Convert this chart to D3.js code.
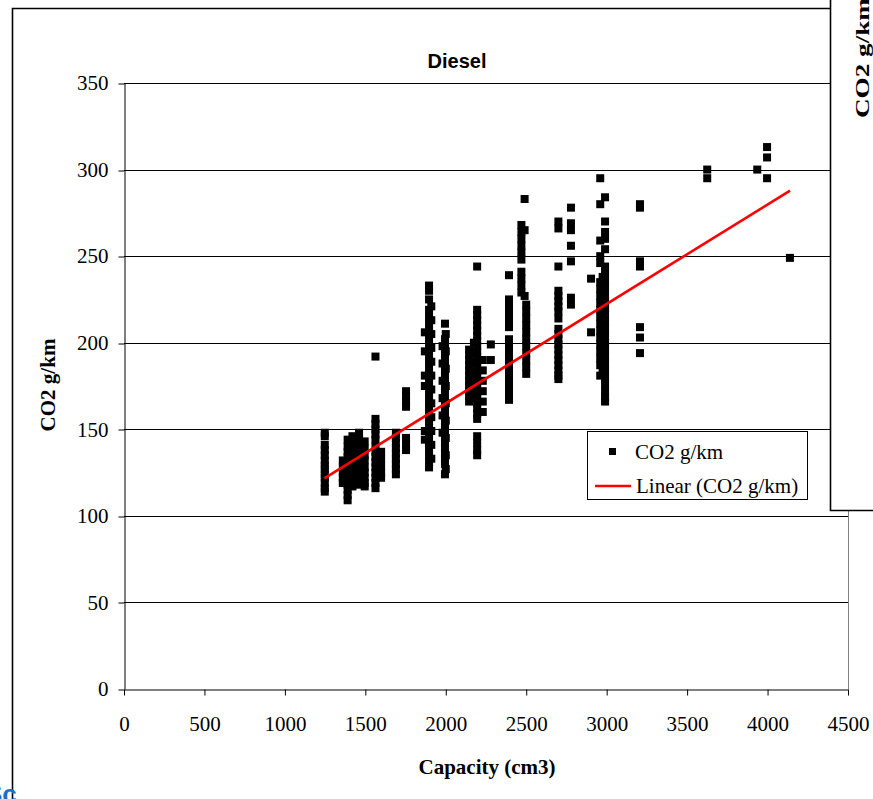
<!DOCTYPE html>
<html>
<head>
<meta charset="utf-8">
<script src="https://cdn.jsdelivr.net/npm/d3@7"></script>
<style>
  html, body { margin: 0; padding: 0; background: #fff; }
  svg { display: block; }
</style>
</head>
<body>
<svg id="chart" width="873" height="799"></svg>
<script>
// ---- DATA ----
const chartTitle = "Diesel";
const xLabel = "Capacity (cm3)";
const yLabel = "CO2 g/km";
const seriesName = "CO2 g/km";
const trendName = "Linear (CO2 g/km)";
const xTicks = [0, 500, 1000, 1500, 2000, 2500, 3000, 3500, 4000, 4500];
const yTicks = [0, 50, 100, 150, 200, 250, 300, 350];

// engine capacity groups (cm3) and CO2 values (g/km) observed at each
const capacityGroups = [1248, 1360, 1390, 1420, 1461, 1496, 1563, 1598, 1690, 1753, 1870, 1896, 1910, 1980, 1995, 2000,
  2145, 2175, 2195, 2230, 2280, 2393, 2470, 2490, 2500, 2700, 2778, 2903, 2960, 2975, 2990, 3207, 3625, 3936, 3997, 4139];
const co2Groups = [
  [148,146,141,138,135,132,129,127,124,122,119,116,114],
  [132,128,125,122,119],
  [144,140,137,134,130,127,124,121,118,115,112,109],
  [146,143,139,135,131,127,124,120,117],
  [148,144,141,137,133,130,127,124,121,118],
  [143,139,135,132,128,125,122,119,117],
  [192,156,153,150,147,144,140,137,134,131,128,125,122,119,116],
  [137,133,129,125,122],
  [148,145,142,139,136,133,130,127,124],
  [172,169,166,163,145,141,138],
  [206,195,181,175,149,144],
  [233,230,225,219,215,211,207,203,199,195,191,187,183,179,175,171,167,163,159,155,151,147,143,139,135,131,128],
  [221,213,205,197,189,181,173,165,157,149,141,133],
  [198,188,178,168,158,148],
  [211,202,199,196,193,190,187,184,181,178,175,172,169,166,163,160,157,154,151,148,145,142,139,136,133,130,124],
  [205,195,185,175,165,155,145,135,127],
  [196,193,190,187,184,181,178,175,172,169,166],
  [200,194,188,182,176,170],
  [244,219,216,213,210,207,204,201,198,195,192,189,186,183,180,177,174,171,168,165,162,159,156,146,142,138,135],
  [190,184,178,172,166,160],
  [199,190],
  [239,225,221,217,213,209,202,198,194,190,186,182,178,174,170,167],
  [268,264,260,256,252,248,241,237,233,229],
  [283,265,227],
  [222,218,214,210,206,202,198,194,190,186,182],
  [270,266,244,230,227,224,221,218,214,208,205,202,199,196,193,190,187,184,181,179],
  [278,269,265,256,247,226,222],
  [237,206],
  [295,280,259,250,246,235,231,227,223,219,215,211,207,203,199,195,191,187,181],
  [238,230,222,214,206,198,190,184],
  [284,270,264,260,254,244,240,236,232,228,224,220,216,212,208,204,200,196,192,188,184,180,176,172,168,166],
  [280,278,247,244,209,203,194],
  [300,295],
  [300],
  [313,307,295],
  [249]
];
// linear trendline endpoints (as drawn in the reference)
const trendCapacity = [1245, 4140];
const trendCO2 = [121.7, 287.8];

// ---- BUILD ----
const points = [];
capacityGroups.forEach((c, i) => co2Groups[i].forEach(v => points.push({cap: c, co2: v})));

const svg = d3.select("#chart");
const serif = "'Liberation Serif', 'Times New Roman', serif";
const sans = "'Liberation Sans', Arial, sans-serif";

svg.append("rect").attr("width", 873).attr("height", 799).attr("fill", "#fff");

// outer chart frame (left + top visible)
svg.append("path").attr("d", "M12.5,820 L12.5,8.5 L900,8.5")
  .attr("fill", "none").attr("stroke", "#000").attr("stroke-width", 1.6);

const x = d3.scaleLinear().domain([0, 4500]).range([124, 848]);
const y = d3.scaleLinear().domain([0, 350]).range([689, 83]);

// gridlines
svg.append("g").selectAll("line").data(yTicks.filter(d => d > 0)).join("line")
  .attr("x1", x(0)).attr("x2", x(4500))
  .attr("y1", d => Math.round(y(d)) + 0.5).attr("y2", d => Math.round(y(d)) + 0.5)
  .attr("stroke", "#000").attr("stroke-width", 1);

// plot area right border
svg.append("line").attr("x1", 848.5).attr("x2", 848.5).attr("y1", y(350)).attr("y2", y(0))
  .attr("stroke", "#808080").attr("stroke-width", 1);

// axes
const fmt = d3.format("d");
const yAxis = svg.append("g").attr("transform", "translate(124.5,0)")
  .call(d3.axisLeft(y).tickValues(yTicks).tickFormat(fmt).tickSize(6).tickSizeOuter(0).tickPadding(10));
const xAxis = svg.append("g").attr("transform", "translate(0,689.5)")
  .call(d3.axisBottom(x).tickValues(xTicks).tickFormat(fmt).tickSize(6).tickSizeOuter(0).tickPadding(21));
[yAxis, xAxis].forEach(g => {
  g.selectAll("path, line").attr("stroke", "#000").attr("stroke-width", 1);
  g.selectAll("text").attr("font-family", serif).attr("font-size", 21).attr("fill", "#000");
});
yAxis.selectAll("line").attr("transform", d => `translate(0,${Math.round(y(d)) + 0.5 - y(d)})`);

// scatter points
const ms = 8;
svg.append("g").selectAll("rect").data(points).join("rect")
  .attr("x", d => x(d.cap) - ms / 2).attr("y", d => y(d.co2) - ms / 2)
  .attr("width", ms).attr("height", ms).attr("fill", "#000");

// trendline
svg.append("line")
  .attr("x1", x(trendCapacity[0])).attr("y1", y(trendCO2[0]))
  .attr("x2", x(trendCapacity[1])).attr("y2", y(trendCO2[1]))
  .attr("stroke", "#ff0000").attr("stroke-width", 2.6);

// title & axis labels
svg.append("text").attr("x", 457).attr("y", 68).attr("text-anchor", "middle")
  .attr("font-family", sans).attr("font-weight", "bold").attr("font-size", 20).text(chartTitle);
svg.append("text").attr("transform", "translate(55,385) rotate(-90)").attr("text-anchor", "middle")
  .attr("font-family", serif).attr("font-weight", "bold").attr("font-size", 21).text(yLabel);
svg.append("text").attr("x", 487).attr("y", 774).attr("text-anchor", "middle")
  .attr("font-family", serif).attr("font-weight", "bold").attr("font-size", 21).text(xLabel);

// legend
const lg = svg.append("g");
lg.append("rect").attr("x", 587.5).attr("y", 431.5).attr("width", 220).attr("height", 68)
  .attr("fill", "#fff").attr("stroke", "#000").attr("stroke-width", 1);
lg.append("rect").attr("x", 609).attr("y", 448).attr("width", 7).attr("height", 7).attr("fill", "#000");
lg.append("text").attr("x", 635).attr("y", 459).attr("font-family", serif).attr("font-size", 21).text(seriesName);
lg.append("line").attr("x1", 595).attr("x2", 631).attr("y1", 486).attr("y2", 486)
  .attr("stroke", "#ff0000").attr("stroke-width", 2.6);
lg.append("text").attr("x", 636).attr("y", 493).attr("font-family", serif).attr("font-size", 21).text(trendName);

// overlapping neighbouring chart (right edge)
const ov = svg.append("g");
ov.append("rect").attr("x", 830).attr("y", -5).attr("width", 60).attr("height", 515).attr("fill", "#fff");
ov.append("path").attr("d", "M830.5,0 L830.5,510.5 L880,510.5").attr("fill", "none")
  .attr("stroke", "#000").attr("stroke-width", 1.6);
ov.append("text").attr("transform", "translate(869,118) rotate(-90)")
  .attr("font-family", serif).attr("font-weight", "bold").attr("font-size", 19)
  .attr("textLength", 120).attr("lengthAdjust", "spacingAndGlyphs").text(yLabel);

// fragment of blue text at bottom-left corner
svg.append("text").attr("x", -15).attr("y", 803).attr("font-family", sans).attr("font-weight", "bold")
  .attr("font-size", 26).attr("fill", "#1f6fc5").text("Sc");
</script>
</body>
</html>
